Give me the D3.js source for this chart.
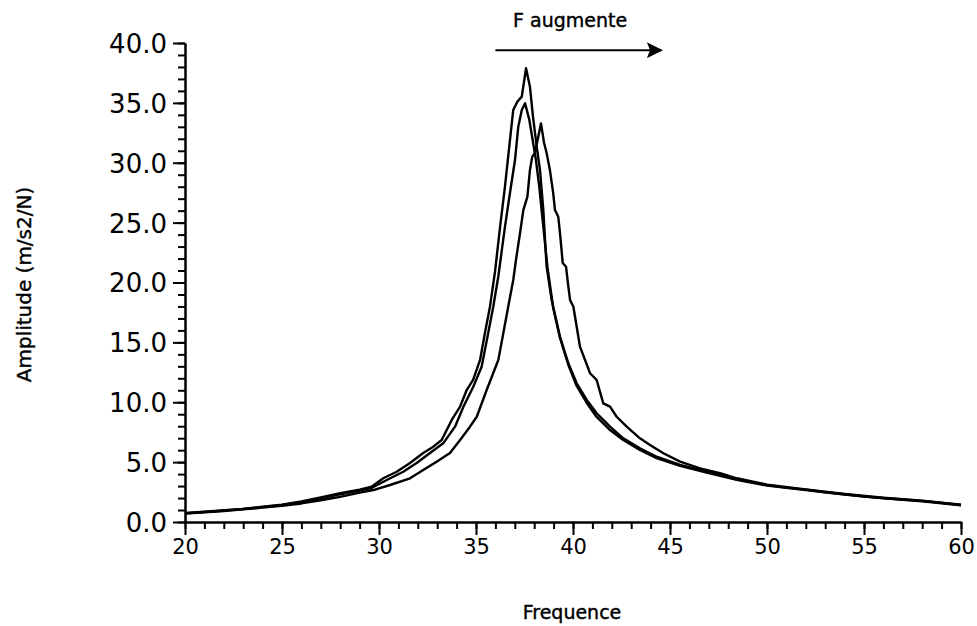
<!DOCTYPE html>
<html>
<head>
<meta charset="utf-8">
<script src="https://cdn.jsdelivr.net/npm/d3@7"></script>
<style>
  body { margin: 0; background: #fff; }
  svg { display: block; }
  .axis path, .axis line { stroke: #000; stroke-width: 2px; }
  .tick-label text { font-family: "DejaVu Sans", sans-serif; fill: #000; }
  .title { font-family: "DejaVu Sans", sans-serif; font-size: 20px; fill: #000; stroke: #000; stroke-width: 0.4px; }
  .curve { fill: none; stroke: #000; stroke-width: 2.4px; stroke-linejoin: round; }
</style>
</head>
<body>
<div id="chart"></div>
<script>
// curve with the highest peak
const freqA = [20, 21, 22, 23, 24, 25, 26, 27, 28, 29, 29.62, 30.22, 30.91, 31.6, 32.28, 32.8, 33.23, 33.75, 34.18, 34.52, 34.85, 35.21, 35.46, 35.72, 35.98, 36.24, 36.49, 36.79, 36.92, 37.13, 37.36, 37.58, 37.78, 37.94, 38.13, 38.3, 38.47, 38.64, 38.9, 39.33, 39.76, 40.19, 40.71, 41.22, 41.91, 42.59, 43.45, 44.31, 45.52, 46.89, 48.44, 50, 51, 52, 53, 54, 55, 56, 57, 58, 59, 60];
const ampA = [0.75, 0.85, 0.98, 1.1, 1.28, 1.45, 1.72, 2.05, 2.4, 2.7, 2.95, 3.65, 4.2, 4.93, 5.76, 6.29, 6.85, 8.52, 9.63, 11.02, 11.86, 13.53, 15.78, 17.98, 20.9, 24.63, 27.97, 32.48, 34.41, 35.1, 35.52, 37.89, 36.35, 33.82, 31.34, 29.39, 26.05, 21.32, 18.54, 15.47, 13.25, 11.58, 10.19, 9.08, 7.96, 6.99, 6.15, 5.45, 4.76, 4.2, 3.57, 3.09, 2.87, 2.7, 2.48, 2.32, 2.13, 2.0, 1.88, 1.76, 1.6, 1.42];

// second curve
const freqB = [20, 21, 22, 23, 24, 25, 26, 27, 28, 29, 29.62, 30.4, 31.25, 31.94, 32.63, 33.31, 33.92, 34.35, 34.86, 35.29, 35.63, 35.89, 36.15, 36.49, 36.75, 37.01, 37.18, 37.36, 37.53, 37.75, 37.92, 38.09, 38.26, 38.47, 38.68, 38.98, 39.33, 39.76, 40.19, 40.71, 41.22, 41.91, 42.59, 43.45, 44.31, 45.52, 46.89, 48.44, 50, 52, 54, 56, 58, 60];
const ampB = [0.72, 0.83, 0.95, 1.08, 1.24, 1.42, 1.66, 1.98, 2.32, 2.62, 2.84, 3.51, 4.2, 4.93, 5.76, 6.57, 7.96, 9.63, 11.3, 12.97, 15.78, 17.98, 20.5, 24.63, 27.47, 30.23, 33.01, 34.41, 34.96, 33.57, 31.9, 30.23, 28.0, 24.66, 21.32, 17.87, 15.37, 13.11, 11.36, 9.94, 8.77, 7.68, 6.85, 6.01, 5.34, 4.68, 4.13, 3.52, 3.05, 2.66, 2.3, 1.97, 1.73, 1.4];

// curve shifted to the right
const freqC = [20, 21, 22, 23, 24, 25, 26, 27, 28, 29, 29.71, 30.57, 31.6, 32.28, 32.97, 33.66, 34.18, 34.69, 35.04, 35.55, 35.89, 36.15, 36.41, 36.66, 36.92, 37.06, 37.27, 37.44, 37.65, 37.78, 37.9, 38.04, 38.21, 38.35, 38.51, 38.64, 38.81, 38.98, 39.07, 39.24, 39.33, 39.47, 39.64, 39.76, 39.85, 40.02, 40.36, 40.88, 41.22, 41.56, 41.91, 42.25, 42.77, 43.45, 43.97, 44.66, 45.52, 46.55, 47.58, 48.44, 50, 52, 54, 56, 58, 60];
const ampC = [0.7, 0.8, 0.92, 1.05, 1.2, 1.35, 1.55, 1.82, 2.1, 2.45, 2.67, 3.09, 3.65, 4.34, 5.04, 5.76, 6.85, 7.96, 8.79, 11.02, 12.44, 13.53, 15.78, 17.98, 20.21, 21.88, 24.13, 26.05, 27.17, 29.39, 30.51, 30.81, 32.18, 33.29, 31.65, 30.81, 29.39, 27.47, 26.05, 25.49, 24.13, 21.63, 21.32, 19.65, 18.54, 17.98, 14.64, 12.42, 11.86, 9.91, 9.63, 8.79, 7.96, 6.99, 6.43, 5.74, 5.04, 4.48, 4.07, 3.65, 3.12, 2.72, 2.34, 2.02, 1.78, 1.44];

// ticks
const xMajor = [20, 25, 30, 35, 40, 45, 50, 55, 60];
const xMinor = d3.range(20, 61, 1);
const yMajor = [0, 5, 10, 15, 20, 25, 30, 35, 40];
const yMinor = d3.range(0, 41, 1);

// annotation (data units)
const arrowFrom = [36.0, 39.4];
const arrowTo = [44.55, 39.4];
const noteText = "F augmente";
const notePos = [39.85, 41.3];

const width = 977, height = 626;
const margin = { top: 43, right: 16, bottom: 104, left: 185 };

const svg = d3.select("#chart").append("svg")
  .attr("width", width)
  .attr("height", height);

const x = d3.scaleLinear().domain([20, 60]).range([margin.left, width - margin.right]);
const y = d3.scaleLinear().domain([0, 40]).range([height - margin.bottom, margin.top]);

// minor ticks
svg.append("g").attr("class", "axis")
  .attr("transform", `translate(0, ${y(0)})`)
  .call(d3.axisBottom(x).tickValues(xMinor).tickSize(7).tickSizeOuter(0).tickFormat(""));
svg.append("g").attr("class", "axis")
  .attr("transform", `translate(${x(20)}, 0)`)
  .call(d3.axisLeft(y).tickValues(yMinor).tickSize(7).tickSizeOuter(0).tickFormat(""));

// major ticks + labels
let xAxis = svg.append("g").attr("class", "axis tick-label")
  .attr("transform", `translate(0, ${y(0)})`)
  .call(d3.axisBottom(x).tickValues(xMajor).tickSize(13).tickSizeOuter(0).tickPadding(4));
xAxis.selectAll("text").style("font-size", "21px");

let yAxis = svg.append("g").attr("class", "axis tick-label")
  .attr("transform", `translate(${x(20)}, 0)`)
  .call(d3.axisLeft(y).tickValues(yMajor).tickSize(12).tickSizeOuter(0).tickPadding(6).tickFormat(d3.format(".1f")));
yAxis.selectAll("text").style("font-size", "26px").attr("dy", "0.36em");

// curves
const line = d3.line().x(d => x(d[0])).y(d => y(d[1]));
[[freqA, ampA], [freqB, ampB], [freqC, ampC]].forEach(([f, a]) => {
  svg.append("path")
    .attr("class", "curve")
    .attr("d", line(d3.zip(f, a)));
});

// axis titles
svg.append("text")
  .attr("class", "title")
  .attr("text-anchor", "middle")
  .attr("transform", `translate(31, ${(y(0) + y(40)) / 2 + 2}) rotate(-90)`)
  .text("Amplitude (m/s2/N)");

svg.append("text")
  .attr("class", "title")
  .attr("text-anchor", "middle")
  .attr("x", x(40) - 1)
  .attr("y", 619)
  .style("font-size", "19px")
  .text("Frequence");

// arrow annotation
svg.append("defs").append("marker")
  .attr("id", "head")
  .attr("viewBox", "0 0 10 10")
  .attr("refX", 9).attr("refY", 5)
  .attr("markerWidth", 26).attr("markerHeight", 16)
  .attr("markerUnits", "userSpaceOnUse")
  .attr("orient", "auto")
  .append("path").attr("d", "M0,0 L10,5 L0,10 L2,5 Z").attr("fill", "#000");

svg.append("line")
  .attr("x1", x(arrowFrom[0])).attr("y1", y(arrowFrom[1]))
  .attr("x2", x(arrowTo[0])).attr("y2", y(arrowTo[1]))
  .attr("stroke", "#000").attr("stroke-width", 2)
  .attr("marker-end", "url(#head)");

svg.append("text")
  .attr("class", "title")
  .attr("text-anchor", "middle")
  .attr("x", x(notePos[0]))
  .attr("y", y(notePos[1]))
  .style("font-size", "19px")
  .text(noteText);
</script>
</body>
</html>
